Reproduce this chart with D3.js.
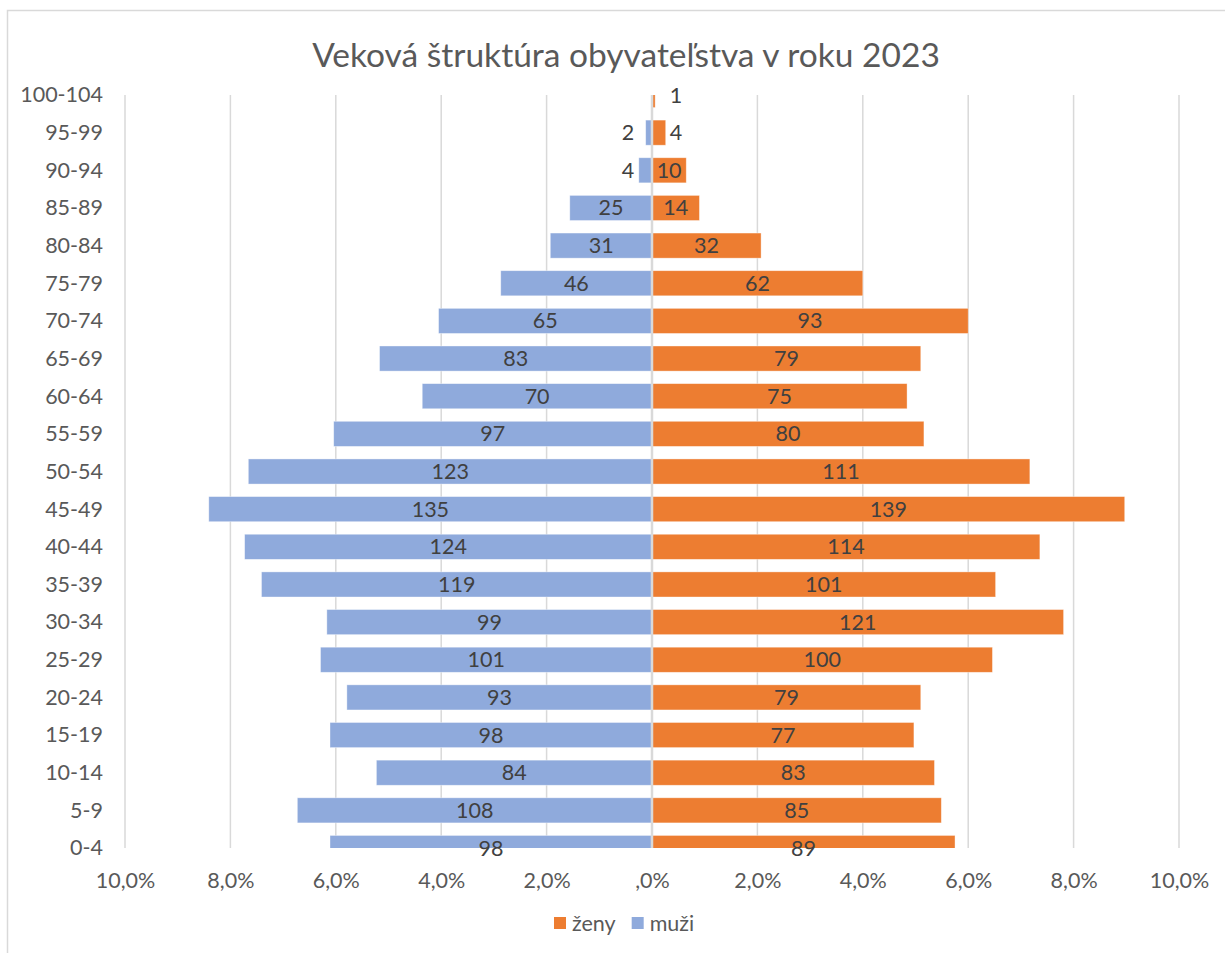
<!DOCTYPE html>
<html>
<head>
<meta charset="utf-8">
<script src="https://cdn.jsdelivr.net/npm/d3@7"></script>
<style>
  html, body { margin: 0; padding: 0; background: #fff; }
  svg { display: block; font-family: Lato, "Open Sans", sans-serif; }
</style>
</head>
<body>
<svg id="chart" width="1225" height="953"></svg>
<script>
// ---- data ----
const title = "Veková štruktúra obyvateľstva v roku 2023";
const ageGroups = ["0-4","5-9","10-14","15-19","20-24","25-29","30-34","35-39","40-44","45-49","50-54","55-59","60-64","65-69","70-74","75-79","80-84","85-89","90-94","95-99","100-104"];
const menCounts   = [98,108,84,98,93,101,99,119,124,135,123,97,70,83,65,46,31,25,4,2,0];
const womenCounts = [89,85,83,77,79,100,121,101,114,139,111,80,75,79,93,62,32,14,10,4,1];
// share of each sex (percent) – bar lengths
const menShare   = [6.11,6.73,5.23,6.11,5.79,6.29,6.17,7.41,7.73,8.41,7.66,6.04,4.36,5.17,4.05,2.87,1.93,1.56,0.25,0.12,0];
const womenShare = [5.75,5.49,5.36,4.97,5.10,6.46,7.81,6.52,7.36,8.97,7.17,5.16,4.84,5.10,6.00,4.00,2.07,0.90,0.65,0.26,0.06];
const xTickValues = [-10,-8,-6,-4,-2,0,2,4,6,8,10];
const xTickLabels = ["10,0%","8,0%","6,0%","4,0%","2,0%",",0%","2,0%","4,0%","6,0%","8,0%","10,0%"];
const seriesNames = ["ženy","muži"];
const colors = { women: "#ED7D31", men: "#8FAADC" };

// ---- layout ----
const svg = d3.select("#chart");
const plot = { left: 125, right: 1179, top: 95, bottom: 848 };

const x = d3.scaleLinear().domain([-10, 10]).range([plot.left, plot.right]);
const y = d3.scalePoint().domain(ageGroups).range([plot.bottom, plot.top]).padding(0);
const barH = y.step() * 0.667;

// chart frame
svg.append("rect").attr("x", 7.5).attr("y", 10.5).attr("width", 1240).attr("height", 960)
  .attr("fill", "#fff").attr("stroke", "#d9d9d9").attr("stroke-width", 1.5);

// title
svg.append("text").attr("x", 626).attr("y", 67).attr("text-anchor", "middle")
  .attr("font-size", 33.5).attr("fill", "#595959").text(title);

// gridlines
svg.append("g").selectAll("line").data(xTickValues.filter(d => d !== 0)).join("line")
  .attr("x1", d => x(d)).attr("x2", d => x(d))
  .attr("y1", plot.top).attr("y2", plot.bottom)
  .attr("stroke", "#d9d9d9").attr("stroke-width", 1.5);

// clip
svg.append("clipPath").attr("id", "plotclip").append("rect")
  .attr("x", plot.left - 5).attr("y", plot.top).attr("width", plot.right - plot.left + 10).attr("height", plot.bottom - plot.top);

const bars = svg.append("g").attr("clip-path", "url(#plotclip)");
const rows = ageGroups.map((g, i) => ({ g, mc: menCounts[i], wc: womenCounts[i], ms: menShare[i], ws: womenShare[i] }));

bars.selectAll("rect.men").data(rows).join("rect").attr("class", "men")
  .attr("x", d => x(-d.ms)).attr("width", d => x(0) - x(-d.ms))
  .attr("y", d => y(d.g) - barH / 2).attr("height", barH)
  .attr("fill", colors.men).attr("stroke", "#fff").attr("stroke-opacity", 0.5).attr("stroke-width", 0.75);

bars.selectAll("rect.women").data(rows).join("rect").attr("class", "women")
  .attr("x", x(0)).attr("width", d => x(d.ws) - x(0))
  .attr("y", d => y(d.g) - barH / 2).attr("height", barH)
  .attr("fill", colors.women).attr("stroke", "#fff").attr("stroke-opacity", 0.5).attr("stroke-width", 0.75);

// center axis line
svg.append("line").attr("x1", x(0)).attr("x2", x(0)).attr("y1", plot.top).attr("y2", plot.bottom)
  .attr("stroke", "#d9d9d9").attr("stroke-width", 2.5);

// data labels
const labelFont = 21.5;
const labels = svg.append("g").attr("font-size", labelFont).attr("fill", "#404040").attr("text-anchor", "middle");
function placeLabel(sel, side) {
  sel.each(function(d) {
    const t = d3.select(this);
    const share = side === "men" ? -d.ms : d.ws;
    let cx = (x(0) + x(share)) / 2;
    const w = this.getComputedTextLength();
    if (Math.abs(cx - x(0)) < w / 2 + 3) cx = x(0) + (side === "men" ? -24 : 24);
    t.attr("x", cx);
  });
}
labels.selectAll("text.m").data(rows.filter(d => d.mc > 0)).join("text").attr("class", "m")
  .attr("y", d => y(d.g)).attr("dy", "0.35em").text(d => d.mc).call(placeLabel, "men");
labels.selectAll("text.w").data(rows.filter(d => d.wc > 0)).join("text").attr("class", "w")
  .attr("y", d => y(d.g)).attr("dy", "0.35em").text(d => d.wc).call(placeLabel, "women");

// category axis
const yAxis = svg.append("g").attr("transform", `translate(${plot.left},0)`)
  .call(d3.axisLeft(y).tickSize(0).tickPadding(22));
yAxis.select(".domain").remove();
yAxis.selectAll("text").attr("font-size", 21.5).attr("fill", "#595959").attr("font-family", "Lato, 'Open Sans', sans-serif");

// value axis
const xAxis = svg.append("g").attr("transform", `translate(0,${plot.bottom})`)
  .call(d3.axisBottom(x).tickValues(xTickValues).tickSize(0).tickPadding(25)
    .tickFormat((d, i) => xTickLabels[i]));
xAxis.select(".domain").remove();
xAxis.selectAll("text").attr("font-size", 21.5).attr("fill", "#595959").attr("font-family", "Lato, 'Open Sans', sans-serif");

// legend
const legend = svg.append("g").attr("transform", "translate(554,923)");
const legendItems = [{ name: seriesNames[0], color: colors.women }, { name: seriesNames[1], color: colors.men }];
let lx = 0;
legendItems.forEach(it => {
  legend.append("rect").attr("x", lx).attr("y", -6).attr("width", 12).attr("height", 12).attr("fill", it.color);
  const t = legend.append("text").attr("x", lx + 18).attr("y", 0).attr("dy", "0.35em")
    .attr("font-size", 21.5).attr("fill", "#595959").text(it.name);
  lx += 18 + t.node().getComputedTextLength() + 16;
});
</script>
</body>
</html>
